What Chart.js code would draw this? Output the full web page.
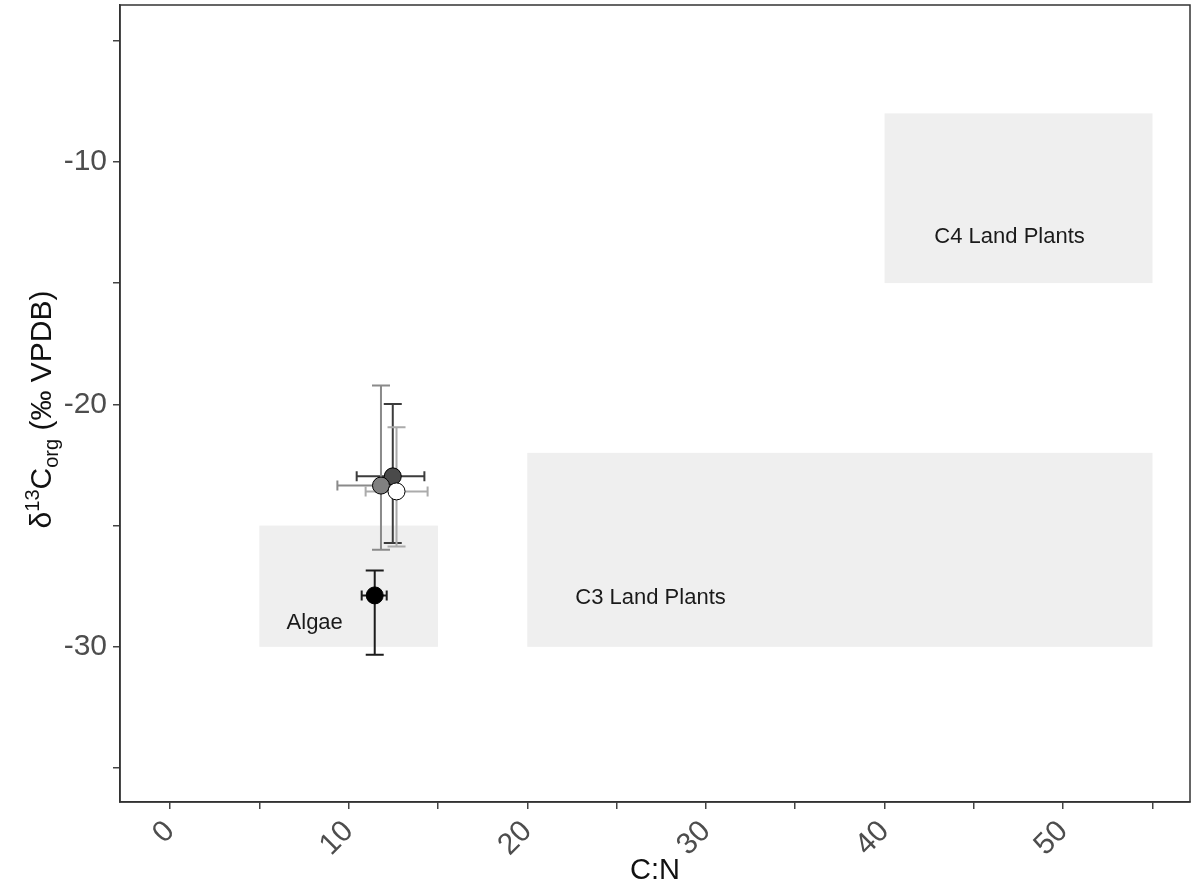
<!DOCTYPE html>
<html>
<head>
<meta charset="utf-8">
<script src="https://cdn.jsdelivr.net/npm/chart.js@4.4.1/dist/chart.umd.min.js"></script>
<style>
  body { margin: 0; background: #fff; }
</style>
</head>
<body>
<canvas id="myChart" width="1196" height="890"></canvas>
<script>
// samples: dark grey, mid grey, white, black
var cnRatio   = [12.47, 11.81, 12.68, 11.46];
var d13C      = [-22.97, -23.35, -23.59, -27.88];
var cnLow     = [10.45, 9.37, 10.95, 10.73];
var cnHigh    = [14.24, 12.2, 14.42, 12.13];
var d13CHigh  = [-19.99, -19.22, -20.94, -26.85];
var d13CLow   = [-25.72, -26.0, -25.86, -30.33];
var pointFill = ['#4a4a4a', '#808080', '#ffffff', '#000000'];
var barColour = ['#3c3c3c', '#8a8a8a', '#ababab', '#1c1c1c'];

// source end-member boxes
var boxLabels = ['Algae', 'C3 Land Plants', 'C4 Land Plants'];
var boxXMin = [5, 20, 40];
var boxXMax = [15, 55, 55];
var boxYMin = [-30, -30, -15];
var boxYMax = [-25, -22, -8];
var labelX = [8.1, 26.9, 47.0];
var labelY = [-29.0, -28.0, -13.1];

var xTickStep = 5;
var yTickStep = 5;

var datasets = cnRatio.map(function (cn, i) {
    return {
        data: [{ x: cn, y: d13C[i] }],
        backgroundColor: pointFill[i],
        borderColor: '#000',
        borderWidth: 1,
        pointRadius: 8.5,
        pointHoverRadius: 8.5,
        order: -i
    };
});

function noPad(s) {
    s.paddingTop = 0; s.paddingBottom = 0;
    s.paddingLeft = 0; s.paddingRight = 0;
}

var boxesPlugin = {
    id: 'boxes',
    beforeDatasetsDraw: function (chart) {
        var ctx = chart.ctx, xs = chart.scales.x, ys = chart.scales.y;
        ctx.save();
        ctx.fillStyle = '#efefef';
        for (var i = 0; i < boxLabels.length; i++) {
            var x0 = xs.getPixelForValue(boxXMin[i]);
            var x1 = xs.getPixelForValue(boxXMax[i]);
            var y0 = ys.getPixelForValue(boxYMax[i]);
            var y1 = ys.getPixelForValue(boxYMin[i]);
            ctx.fillRect(x0, y0, x1 - x0, y1 - y0);
        }
        ctx.fillStyle = '#1a1a1a';
        ctx.font = '22px "Liberation Sans", Arial, sans-serif';
        ctx.textAlign = 'center';
        ctx.textBaseline = 'middle';
        for (var j = 0; j < boxLabels.length; j++) {
            ctx.fillText(boxLabels[j], xs.getPixelForValue(labelX[j]), ys.getPixelForValue(labelY[j]));
        }

        // error bars
        ctx.lineWidth = 2;
        for (var k = 0; k < cnRatio.length; k++) {
            var px = xs.getPixelForValue(cnRatio[k]);
            var py = ys.getPixelForValue(d13C[k]);
            var top = ys.getPixelForValue(d13CHigh[k]);
            var bot = ys.getPixelForValue(d13CLow[k]);
            var lft = xs.getPixelForValue(cnLow[k]);
            var rgt = xs.getPixelForValue(cnHigh[k]);
            ctx.strokeStyle = barColour[k];
            ctx.beginPath();
            ctx.moveTo(px, top); ctx.lineTo(px, bot);
            ctx.moveTo(px - 9, top); ctx.lineTo(px + 9, top);
            ctx.moveTo(px - 9, bot); ctx.lineTo(px + 9, bot);
            ctx.moveTo(lft, py); ctx.lineTo(rgt, py);
            ctx.moveTo(lft, py - 5); ctx.lineTo(lft, py + 5);
            ctx.moveTo(rgt, py - 5); ctx.lineTo(rgt, py + 5);
            ctx.stroke();
        }
        ctx.restore();
    },
    afterDraw: function (chart) {
        var ctx = chart.ctx, a = chart.chartArea;
        ctx.save();
        ctx.strokeStyle = '#333';
        ctx.lineWidth = 1.5;
        ctx.strokeRect(a.left, a.top, a.right - a.left, a.bottom - a.top);

        // y axis title with super/subscripts
        var big = '30px "Liberation Sans", Arial, sans-serif';
        var small = '20px "Liberation Sans", Arial, sans-serif';
        var parts = [
            { t: '\u03b4', f: big, dy: 0 },
            { t: '13', f: small, dy: -12 },
            { t: 'C', f: big, dy: 0 },
            { t: 'org', f: small, dy: 7 },
            { t: ' (\u2030 VPDB)', f: big, dy: 0 }
        ];
        var total = 0;
        parts.forEach(function (p) { ctx.font = p.f; p.w = ctx.measureText(p.t).width; total += p.w; });
        ctx.translate(51, (a.top + a.bottom) / 2 + 6);
        ctx.rotate(-Math.PI / 2);
        ctx.fillStyle = '#111';
        ctx.textBaseline = 'alphabetic';
        ctx.textAlign = 'left';
        var cx = -total / 2;
        parts.forEach(function (p) {
            ctx.font = p.f;
            ctx.fillText(p.t, cx, p.dy);
            cx += p.w;
        });
        ctx.restore();
    }
};

var ctx = document.getElementById('myChart').getContext('2d');
var chart = new Chart(ctx, {
    type: 'scatter',
    data: { datasets: datasets },
    plugins: [boxesPlugin],
    options: {
        responsive: false,
        animation: false,
        layout: { autoPadding: false, padding: { top: 5, right: 6, left: 0, bottom: 0 } },
        plugins: { legend: { display: false }, tooltip: { enabled: false } },
        scales: {
            x: {
                type: 'linear',
                min: -2.8,
                max: 57.1,
                afterFit: function (s) { s.height = 88; noPad(s); },
                grid: { display: true, drawOnChartArea: false, drawTicks: true, tickLength: 7, color: '#444', lineWidth: 1.5 },
                border: { display: true, color: '#333', width: 1.5 },
                ticks: {
                    stepSize: xTickStep,
                    includeBounds: false,
                    autoSkip: false,
                    minRotation: 45,
                    maxRotation: 45,
                    padding: 5,
                    color: '#4d4d4d',
                    font: { family: '"Liberation Sans", Arial, sans-serif', size: 30 },
                    callback: function (v) { return v % 10 === 0 ? String(v) : ''; }
                },
                title: {
                    display: true,
                    text: 'C:N',
                    color: '#111',
                    padding: { top: 0, bottom: 2 },
                    font: { family: '"Liberation Sans", Arial, sans-serif', size: 29 }
                }
            },
            y: {
                type: 'linear',
                min: -36.4,
                max: -3.53,
                afterFit: function (s) { s.width = 120; noPad(s); },
                grid: { display: true, drawOnChartArea: false, drawTicks: true, tickLength: 7, color: '#444', lineWidth: 1.5 },
                border: { display: true, color: '#333', width: 1.5 },
                ticks: {
                    stepSize: yTickStep,
                    includeBounds: false,
                    padding: 6,
                    color: '#4d4d4d',
                    font: { family: '"Liberation Sans", Arial, sans-serif', size: 30 },
                    callback: function (v) { return v % 10 === 0 ? String(v) : ''; }
                }
            }
        }
    }
});
</script>
</body>
</html>
